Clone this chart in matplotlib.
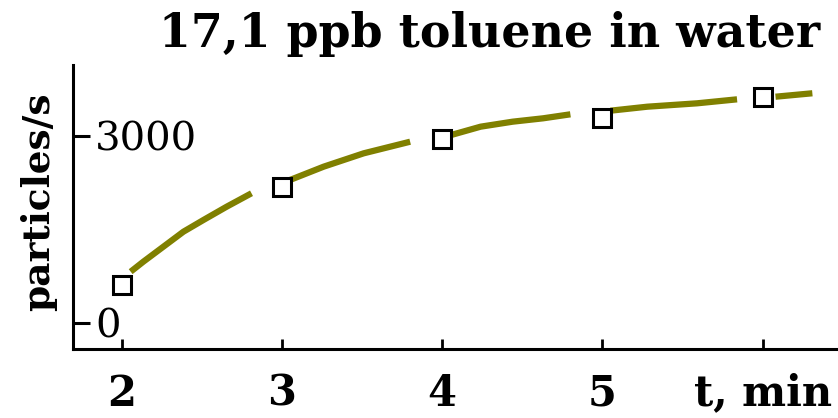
import matplotlib.pyplot as plt

# measured points (t in min, particles/s)
t_points = [2, 3, 4, 5, 6]
counts_points = [614, 2188, 2952, 3289, 3620]

# fitted curve, drawn in pieces between the points
curve_t = [[2.056, 2.135, 2.26, 2.385, 2.51, 2.655, 2.81],
           [3.05, 3.26, 3.51, 3.80],
           [4.04, 4.24, 4.44, 4.63, 4.80],
           [5.05, 5.28, 5.59, 5.84],
           [6.08, 6.31]]
curve_counts = [[827, 987, 1227, 1467, 1655, 1868, 2083],
                [2296, 2509, 2723, 2909],
                [3005, 3150, 3230, 3284, 3348],
                [3406, 3470, 3524, 3588],
                [3630, 3685]]

x_ticks = [2, 3, 4, 5, 6]
x_tick_labels = ["2", "3", "4", "5", "t, min"]
y_ticks = [0, 3000]
y_tick_labels = ["0", "3000"]


def plot_chart():
    fig = plt.figure(figsize=(8.38, 4.18), dpi=100)
    ax = fig.add_axes([73 / 838, 1 - 349 / 418, 1 - 73 / 838, (349 - 65) / 418])

    for xs, ys in zip(curve_t, curve_counts):  # curve pieces
        ax.plot(xs, ys, color="#808000", linewidth=4.5, solid_capstyle="butt", zorder=2)
    ax.plot(t_points, counts_points, linestyle="none", marker="s", markersize=12.5,
            markerfacecolor="white", markeredgecolor="black", markeredgewidth=2.2, zorder=3)

    ax.set_xlim(1.696, 6.47)
    ax.set_ylim(-412, 4138)

    for side in ["top", "right"]:
        ax.spines[side].set_visible(False)
    for side in ["left", "bottom"]:
        ax.spines[side].set_linewidth(2.2)

    ax.set_xticks(x_ticks)
    ax.set_xticklabels(x_tick_labels, family="DejaVu Serif", fontweight="bold", fontsize=30)
    ax.tick_params(axis="x", direction="in", length=7, width=2, pad=17)

    ax.set_yticks(y_ticks)
    ax.set_yticklabels(y_tick_labels, family="DejaVu Serif", fontsize=29, ha="left")
    ax.tick_params(axis="y", direction="in", length=12, width=2.2, pad=-16)

    # title and y label as figure text
    fig.text(490 / 838, 1 - 47 / 418, "17,1 ppb toluene in water", family="DejaVu Serif",
             fontweight="bold", fontsize=33, ha="center", va="baseline")
    fig.text(39 / 838, 1 - 202 / 418, "particles/s", family="DejaVu Serif", fontweight="bold",
             fontsize=27, rotation=90, ha="center", va="center")
    return fig


if __name__ == '__main__':
    fig = plot_chart()
    fig.savefig("out.png", dpi=100)
